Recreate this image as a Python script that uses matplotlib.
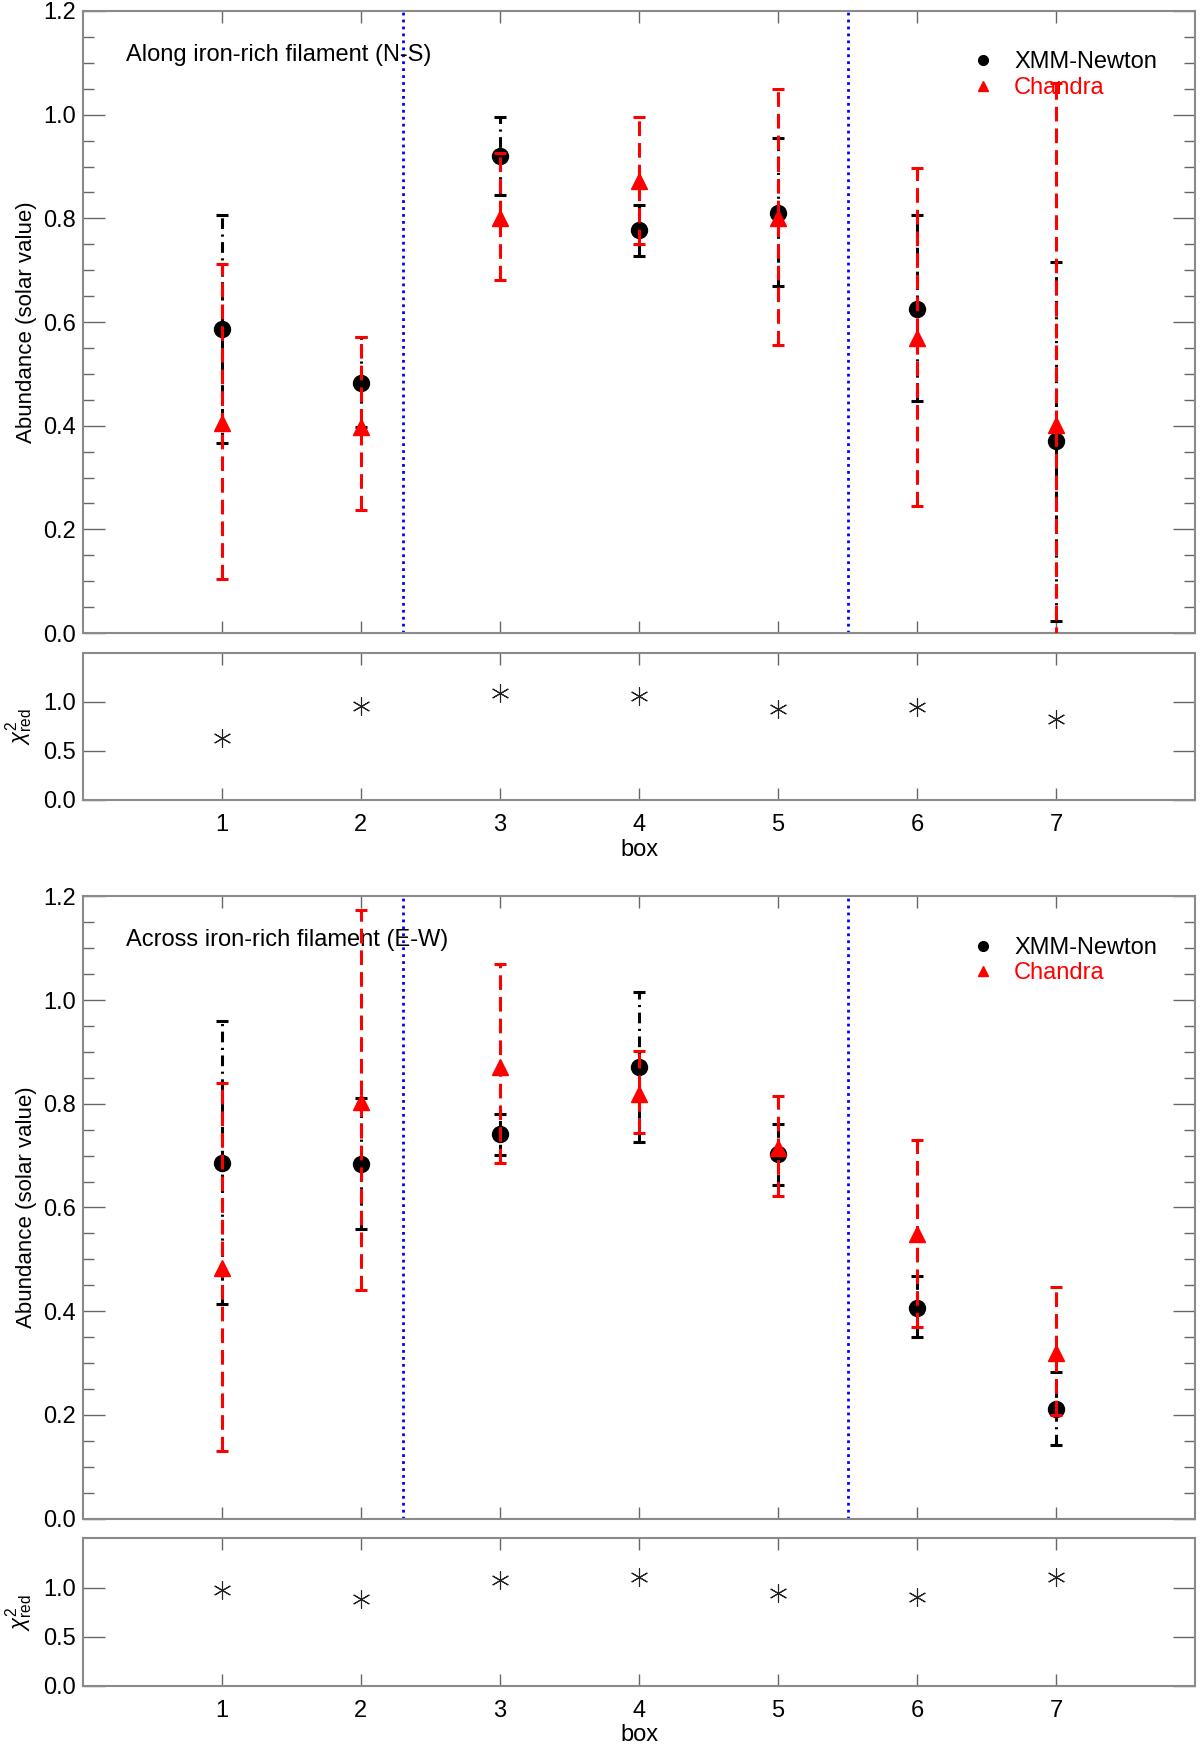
import matplotlib
matplotlib.use("Agg")
import matplotlib.pyplot as plt
from matplotlib.lines import Line2D
from matplotlib.ticker import MultipleLocator, FormatStrFormatter
import numpy as np

plt.rcParams['font.family'] = ['Liberation Sans', 'DejaVu Sans']
plt.rcParams['mathtext.fontset'] = 'custom'
plt.rcParams['mathtext.rm'] = 'Liberation Sans'
plt.rcParams['mathtext.it'] = 'Liberation Sans:italic'

# data
boxes = np.array([1, 2, 3, 4, 5, 6, 7])

# along filament (N-S)
ns_xmm = np.array([0.586, 0.482, 0.920, 0.778, 0.811, 0.626, 0.370])
ns_xmm_lo = np.array([0.366, 0.398, 0.846, 0.727, 0.669, 0.447, 0.024])
ns_xmm_hi = np.array([0.806, 0.572, 0.995, 0.826, 0.955, 0.806, 0.716])
ns_chan = np.array([0.406, 0.398, 0.800, 0.872, 0.800, 0.570, 0.402])
ns_chan_lo = np.array([0.104, 0.238, 0.682, 0.751, 0.556, 0.246, -0.10])
ns_chan_hi = np.array([0.712, 0.572, 0.926, 0.995, 1.050, 0.898, 1.062])
ns_chi = np.array([0.635, 0.956, 1.091, 1.054, 0.926, 0.949, 0.821])

# across filament (E-W)
ew_xmm = np.array([0.686, 0.684, 0.741, 0.871, 0.703, 0.407, 0.211])
ew_xmm_lo = np.array([0.414, 0.559, 0.701, 0.727, 0.643, 0.350, 0.142])
ew_xmm_hi = np.array([0.959, 0.812, 0.781, 1.015, 0.761, 0.467, 0.283])
ew_chan = np.array([0.483, 0.803, 0.871, 0.819, 0.715, 0.549, 0.319])
ew_chan_lo = np.array([0.131, 0.441, 0.685, 0.743, 0.623, 0.370, 0.199])
ew_chan_hi = np.array([0.840, 1.173, 1.069, 0.901, 0.815, 0.731, 0.447])
ew_chi = np.array([0.973, 0.881, 1.081, 1.102, 0.949, 0.908, 1.102])

boundaries = [2.3, 5.5]
titles = ["Along iron-rich filament (N-S)", "Across iron-rich filament (E-W)"]

FS = 17
SPINE = '#8a8a8a'
TICK = '#666666'

fig = plt.figure(figsize=(12, 17.44), dpi=100)

L, W = 0.069, 0.927
main_pos = [0.6370, 0.1293]
chi_pos = [0.5413, 0.0334]
MH, CH = 0.3567, 0.0845


def style_spines(ax):
    for s in ax.spines.values():
        s.set_color(SPINE)
        s.set_linewidth(1.5)


def draw(ax, axc, x, xmm, xlo, xhi, ch, clo, chi_hi, chi2, title):
    # XMM-Newton (black, dash-dot)
    m, caps, bars = ax.errorbar(x, xmm, yerr=[xmm - xlo, xhi - xmm], fmt='o', color='black',
                                markersize=11.5, elinewidth=2.2, capsize=4.5, capthick=2.2, zorder=3)
    bars[0].set_linestyle((0, (3.5, 1.8, 0.7, 1.8)))
    # Chandra (red, dashed)
    m2, caps2, bars2 = ax.errorbar(x, ch, yerr=[ch - clo, chi_hi - ch], fmt='^', color='red',
                                   markersize=11, elinewidth=2.2, capsize=4.5, capthick=2.2, zorder=4)
    bars2[0].set_linestyle((0, (4.8, 2.3)))

    for b in boundaries:
        ax.axvline(b, color='blue', lw=2, linestyle=(0, (1, 1.5)), zorder=1)

    ax.set_xlim(0, 8)
    ax.set_ylim(0, 1.2)
    ax.set_xticks(boxes)
    ax.set_xticklabels([])
    ax.yaxis.set_major_locator(MultipleLocator(0.2))
    ax.yaxis.set_minor_locator(MultipleLocator(0.05))
    ax.yaxis.set_major_formatter(FormatStrFormatter('%.1f'))
    ax.tick_params(axis='y', which='major', direction='in', length=15.8, width=1, color=TICK,
                   left=True, right=True, labelsize=FS, pad=5)
    ax.tick_params(axis='y', which='minor', direction='in', length=8, width=1, color=TICK,
                   left=True, right=True)
    ax.tick_params(axis='x', which='major', direction='in', length=8.6, width=1, color=TICK,
                   top=True, bottom=True)
    ax.set_ylabel("Abundance (solar value)", fontsize=16, labelpad=4)
    style_spines(ax)
    ax.text(0.308, 1.115, title, fontsize=FS, va='center', ha='left')

    handles = [Line2D([], [], marker='o', color='black', ls='none', markersize=7),
               Line2D([], [], marker='^', color='red', ls='none', markersize=7)]
    ax.legend(handles, ["XMM-Newton", "Chandra"], loc='upper left', bbox_to_anchor=(0.799, 0.935),
              frameon=False, fontsize=FS, borderpad=0, borderaxespad=0, handlelength=1.0,
              handletextpad=0.8, labelspacing=0.15, labelcolor=['black', 'red'])

    # reduced chi-square panel
    axc.plot(x, chi2, ls='none', marker=(6, 2, 0), markersize=13, mew=0.8, color='#222222')
    axc.set_xlim(0, 8)
    axc.set_ylim(0, 1.5)
    axc.set_xticks(boxes)
    axc.set_yticks([0.0, 0.5, 1.0])
    axc.yaxis.set_major_formatter(FormatStrFormatter('%.1f'))
    axc.tick_params(axis='y', direction='in', length=15.8, width=1, color=TICK,
                    left=True, right=True, labelsize=FS, pad=5)
    axc.tick_params(axis='x', direction='in', length=8.6, width=1, color=TICK,
                    top=True, bottom=True, labelsize=FS, pad=10)
    axc.set_ylabel(r'$\chi^2_{\rm red}$', fontsize=16, labelpad=6)
    axc.set_xlabel("box", fontsize=FS, labelpad=2)
    style_spines(axc)


sets = [
    (ns_xmm, ns_xmm_lo, ns_xmm_hi, ns_chan, ns_chan_lo, ns_chan_hi, ns_chi),
    (ew_xmm, ew_xmm_lo, ew_xmm_hi, ew_chan, ew_chan_lo, ew_chan_hi, ew_chi),
]

for i, d in enumerate(sets):
    ax = fig.add_axes([L, main_pos[i], W, MH])
    axc = fig.add_axes([L, chi_pos[i], W, CH])
    draw(ax, axc, boxes, *d, titles[i])

fig.savefig("out.png", dpi=100)
